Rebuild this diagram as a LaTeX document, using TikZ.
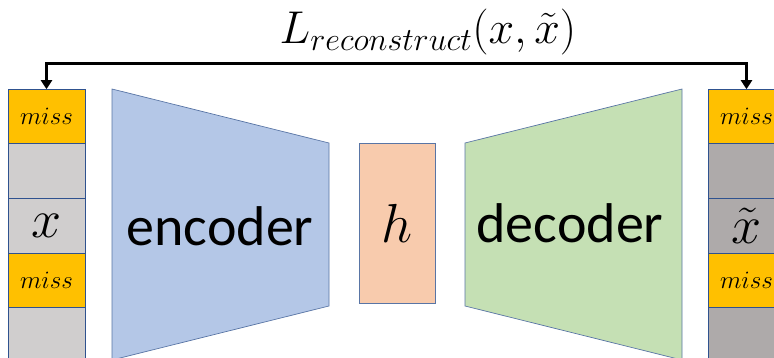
\RequirePackage{fix-cm}
\documentclass[tikz,border=0pt]{standalone}
\usepackage{fontspec}
\newfontfamily\calib{Carlito}
\usepackage{tikz}
\usetikzlibrary{arrows.meta,positioning}
\definecolor{missfill}{RGB}{255,192,0}
\definecolor{ingray}{RGB}{208,206,206}
\definecolor{outgray}{RGB}{174,170,170}
\definecolor{encfill}{RGB}{180,199,231}
\definecolor{decfill}{RGB}{197,224,180}
\definecolor{hidfill}{RGB}{248,203,173}
\definecolor{edge}{RGB}{47,82,143}

\begin{document}
\begin{tikzpicture}[x=1pt,y=-1pt,>={Triangle[length=9pt,width=11pt]},
  cell/.style={draw=edge,line width=0.7pt,minimum width=77pt,minimum height=54.6pt,inner sep=0pt,outer sep=0pt},
  misscell/.style={cell,fill=missfill,font=\fontsize{25}{25}\selectfont},
  trap/.style={draw=edge!80,line width=0.7pt},
  big/.style={font=\calib\fontsize{56}{56}\selectfont}]
  \useasboundingbox (0,0) rectangle (774,358);
  \clip (0,0) rectangle (774,358);
  % input column
  \node[misscell] (xa) at (46.5,116.5) {$miss$};
  \node[cell,fill=ingray,below=0pt of xa] (xb) {};
  \node[cell,fill=ingray,below=0pt of xb,font=\fontsize{54}{54}\selectfont] (xc) {$x$};
  \node[misscell,below=0pt of xc] (xd) {$miss$};
  \node[cell,fill=ingray,below=0pt of xd] (xe) {};
  % output column
  \node[misscell] (ya) at (746.5,116.5) {$miss$};
  \node[cell,fill=outgray,below=0pt of ya] (yb) {};
  \node[cell,fill=outgray,below=0pt of yb,font=\fontsize{54}{54}\selectfont] (yc) {$\tilde{x}$};
  \node[misscell,below=0pt of yc] (yd) {$miss$};
  \node[cell,fill=outgray,below=0pt of yd] (ye) {};
  % encoder / code / decoder
  \filldraw[trap,fill=encfill] (112,89) -- (329,143) -- (329,306) -- (112,360) -- cycle;
  \node[big] (enc) at (220,226) {encoder};
  \node[draw=edge!80,line width=0.7pt,fill=hidfill,minimum width=76pt,minimum height=160pt,font=\fontsize{55}{55}\selectfont] (hid) at (397,223) {$h$};
  \filldraw[trap,fill=decfill] (465,143) -- (682,89) -- (682,360) -- (465,306) -- cycle;
  \node[big] (dec) at (570,223) {decoder};
  % loss
  \node[font=\fontsize{46}{46}\selectfont] (loss) at (428,32) {$L_{reconstruct}(x,\tilde{x})$};
  \draw[<->,line width=3pt] (xa.north) -- ++(0,-26) -| (ya.north);
\end{tikzpicture}
\end{document}
